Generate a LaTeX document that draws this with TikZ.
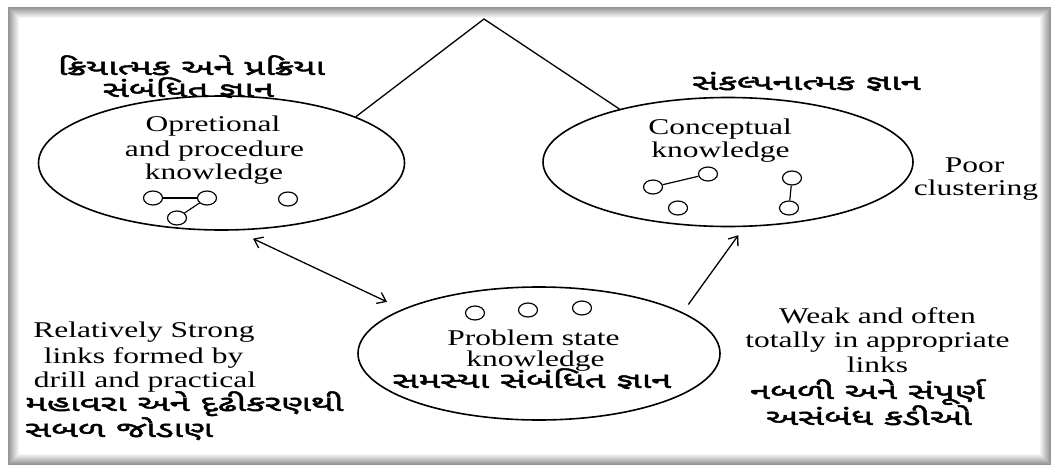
\documentclass[tikz,border=0pt]{standalone}
\usepackage{fontspec}
\usetikzlibrary{arrows.meta,shapes.geometric}
\newfontfamily\en{Liberation Serif}[FakeStretch=1.4]
\newfontfamily\guj{Noto Sans Gujarati UI}[Script=Gujarati,FakeStretch=1.66,FakeBold=2.2]
\begin{document}
\begin{tikzpicture}[x=1pt,y=-1pt,
  bigell/.style={draw, ellipse, line width=1.6pt, inner sep=0pt, minimum width=#1},
  dot/.style={draw, ellipse, line width=1.2pt, inner sep=0pt, minimum width=19pt, minimum height=14pt},
  link/.style={line width=1.2pt},
  enl/.style={anchor=base, inner sep=0pt, font=\en\fontsize{22.5}{24}\selectfont},
  gul/.style={anchor=base, inner sep=0pt, font=\guj\fontsize{22}{24}\selectfont},
  conn/.style={line width=1.3pt}
]
\useasboundingbox (0,0) rectangle (1051,465);
% frame with inner shadow
\fill[white] (0,0) rectangle (1051,465);
\foreach \i [evaluate=\i as \c using 42-3.8*\i] in {0,...,10}
  \fill[black!\c] ({8+\i},{7+\i}) rectangle ({1051-\i},{465-\i});
\fill[white] (19,18) rectangle (1040,454);

% big ellipses
\node[bigell=366pt, minimum height=134pt] (L) at (221.5,163) {};
\node[bigell=370pt, minimum height=129pt] (R) at (728,162) {};
\node[bigell=362pt, minimum height=133pt] (B) at (539,353.5) {};

% apex connector
\coordinate (apex) at (484,19);
\draw[conn] (L.19) -- (apex) -- (R.154);

% arrows
\draw[conn, {Straight Barb[length=8pt,width=12pt]}-{Straight Barb[length=8pt,width=12pt]}, shorten <=19pt, shorten >=17pt] (L.-78) -- (B.162.3);
\draw[conn, -{Straight Barb[length=8pt,width=12pt]}, shorten <=9.6pt, shorten >=10pt] (B.16.2) -- (R.-76.3);

% small dots in left ellipse
\node[dot] (c1) at (153,198) {};
\node[dot] (c2) at (207,198) {};
\node[dot] (c3) at (177,218) {};
\node[dot] (c4) at (288,199) {};
\draw[link] (c1) -- (c2);
\draw[link] (c2) -- (c3);

% dots in right ellipse
\node[dot] (d1) at (653,187) {};
\node[dot] (d2) at (708,174) {};
\node[dot] (d3) at (678,208) {};
\node[dot] (d4) at (792,178) {};
\node[dot] (d5) at (789,208) {};
\draw[link] (d1) -- (d2);
\draw[link] (d4) -- (d5);

% dots in bottom ellipse
\node[dot] (e1) at (475,313) {};
\node[dot] (e2) at (528,310) {};
\node[dot] (e3) at (582,308) {};

% texts
\node[gul] (t1) at (191.5,75) {ક્રિયાત્મક અને પ્રક્રિયા};
\node[gul] (t2) at (188.5,97) {સંબંધિત જ્ઞાન};
\node[gul] (t3) at (806.5,90) {સંકલ્પનાત્મક જ્ઞાન};

\node[enl] (o1) at (213,132) {Opretional};
\node[enl] (o2) at (214.5,157) {and procedure};
\node[enl] (o3) at (214,179) {knowledge};

\node[enl] (k1) at (720,135) {Conceptual};
\node[enl] (k2) at (720.5,158) {knowledge};

\node[enl] (p1) at (974.5,172) {Poor};
\node[enl] (p2) at (976,195) {clustering};

\node[enl] (s1) at (533.5,345) {Problem state};
\node[enl] (s2) at (535.5,366) {knowledge};
\node[gul] (s3) at (532,388) {સમસ્યા સંબંધિત જ્ઞાન};

\node[enl] (r1) at (144,337) {Relatively Strong};
\node[enl] (r2) at (143.5,363) {links formed by};
\node[enl] (r3) at (145,387) {drill and practical};
\node[gul, anchor=base west] (r4) at (25,411) {મહાવરા અને દૃઢીકરણથી};
\node[gul, anchor=base west] (r5) at (25,437) {સબળ જોડાણ};

\node[enl] (w1) at (877.5,323) {Weak and often};
\node[enl] (w2) at (877.5,347) {totally in appropriate};
\node[enl] (w3) at (877.5,372) {links};
\node[gul] (w4) at (867.5,399) {નબળી અને સંપૂર્ણ};
\node[gul] (w5) at (869,425) {અસંબંધ કડીઓ};
\end{tikzpicture}
\end{document}
